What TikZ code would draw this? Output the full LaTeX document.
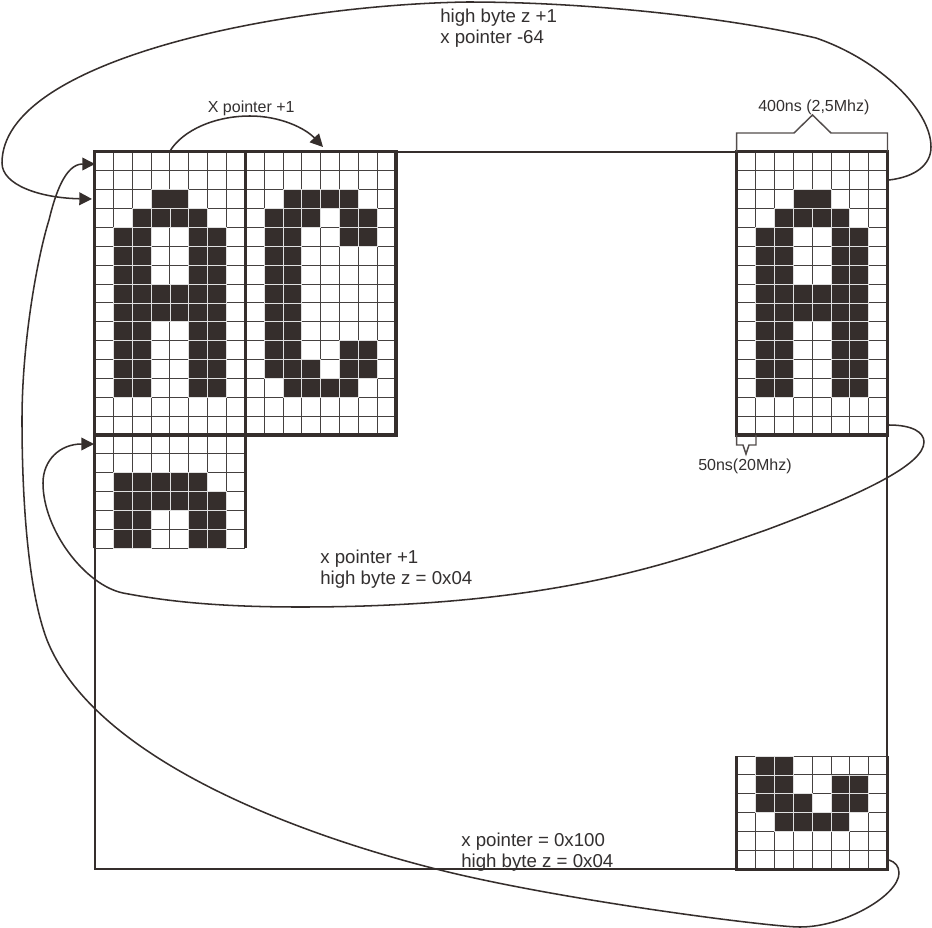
\documentclass[tikz,border=0pt]{standalone}
\usepackage{fontspec}
\setmainfont{Liberation Sans}
\usetikzlibrary{arrows.meta}
\definecolor{ink}{HTML}{352E2C}
\definecolor{gridc}{HTML}{454140}
\definecolor{txt}{HTML}{333030}
\tikzset{
  glyphbox/.style={draw=none,inner sep=0pt,outer sep=0pt,anchor=north west},
  thickedge/.style={draw=ink,line width=2.5pt,line cap=rect},
  framebox/.style={draw=ink,line width=1.5pt,inner sep=0pt,outer sep=0pt,anchor=north west,minimum width=594.4pt,minimum height=538pt},
  flow/.style={draw=ink,line width=1.15pt},
  flowarrow/.style={flow,-{Triangle[length=9.5pt,width=9.5pt]}},
  brace/.style={draw=ink!85!white,line width=1.1pt},
  biglabel/.style={font=\fontsize{14}{15.6}\selectfont,text=txt,anchor=base west,inner sep=0pt,align=left},
  smalllabel/.style={font=\fontsize{12}{14}\selectfont,text=txt,anchor=base west,inner sep=0pt},
  joinbar/.style={draw=ink,line width=.9pt}
}
\newcommand{\glyphgrid}[5]{%
  \fill[white] (#1,#2) rectangle ++(#3*18.85,#4*18.9);
  \foreach \gi in {0,...,#3}{\draw[gridc,line width=.68pt] (#1+\gi*18.85,#2) -- ++(0,#4*18.9);}
  \foreach \gj in {0,...,#4}{\draw[gridc,line width=.68pt] (#1,#2+\gj*18.9) -- ++(#3*18.85,0);}
  \foreach \gc/\gr in {#5}{%
    \draw[fill=ink,draw=white!88!black,line width=.6pt] (#1+\gc*18.85,#2+\gr*18.9) rectangle ++(18.85,18.9);}
}
\begin{document}
\begin{tikzpicture}[x=.75pt,y=-.75pt]
\useasboundingbox (0,0) rectangle (932,928);
\fill[white] (0,0) rectangle (932,928);
\node[framebox] (frame) at (94.5,152) {};
% glyph A
\glyphgrid{94.5}{151.7}{8}{15}{3/2,4/2,2/3,3/3,4/3,5/3,1/4,2/4,5/4,6/4,1/5,2/5,5/5,6/5,1/6,2/6,5/6,6/6,1/7,2/7,3/7,4/7,5/7,6/7,1/8,2/8,3/8,4/8,5/8,6/8,1/9,2/9,5/9,6/9,1/10,2/10,5/10,6/10,1/11,2/11,5/11,6/11,1/12,2/12,5/12,6/12}
\draw[joinbar] (169.9,190) -- (169.9,208);
% glyph C
\glyphgrid{245.3}{151.7}{8}{15}{2/2,3/2,4/2,5/2,1/3,2/3,3/3,5/3,6/3,1/4,2/4,5/4,6/4,1/5,2/5,1/6,2/6,1/7,2/7,1/8,2/8,1/9,2/9,1/10,2/10,5/10,6/10,1/11,2/11,3/11,5/11,6/11,2/12,3/12,4/12,5/12}
% glyph A, right
\glyphgrid{736.7}{151.7}{8}{15}{3/2,4/2,2/3,3/3,4/3,5/3,1/4,2/4,5/4,6/4,1/5,2/5,5/5,6/5,1/6,2/6,5/6,6/6,1/7,2/7,3/7,4/7,5/7,6/7,1/8,2/8,3/8,4/8,5/8,6/8,1/9,2/9,5/9,6/9,1/10,2/10,5/10,6/10,1/11,2/11,5/11,6/11,1/12,2/12,5/12,6/12}
\draw[joinbar] (812.1,190) -- (812.1,208);
% top of A, second line
\glyphgrid{94.5}{435}{8}{6}{1/2,2/2,3/2,4/2,5/2,1/3,2/3,3/3,4/3,5/3,6/3,1/4,2/4,5/4,6/4,1/5,2/5,5/5,6/5}
% bottom right glyph
\glyphgrid{736.7}{756}{8}{6}{1/0,2/0,1/1,2/1,5/1,6/1,1/2,2/2,3/2,5/2,6/2,2/3,3/3,4/3,5/3}
\node[glyphbox,minimum width=113.1pt,minimum height=212.5pt] (A) at (94.5,151.7) {};
\node[glyphbox,minimum width=113.1pt,minimum height=212.5pt] (C) at (245.3,151.7) {};
\node[glyphbox,minimum width=113.1pt,minimum height=212.5pt] (R) at (736.7,151.7) {};
\node[glyphbox,minimum width=113.1pt,minimum height=85pt] (S) at (94.5,435) {};
\node[glyphbox,minimum width=113.1pt,minimum height=85pt] (W) at (736.7,756) {};
\draw[thickedge] (A.north west) rectangle (A.south east);
\draw[thickedge] (C.north west) rectangle (C.south east);
\draw[thickedge] (R.north west) rectangle (R.south east);
\draw[thickedge,line cap=butt] (S.south west) -- (S.north west) (S.north east) -- (S.south east);
\draw[thickedge,line cap=butt] (W.north west) -- (W.south west) -- (W.south east) -- (W.north east);
% end points
\coordinate (t1) at (889,180);
\coordinate (t2) at (92,199);
\coordinate (x1) at (170,151);
\coordinate (x2) at (323,147);
\coordinate (m1) at (889,425);
\coordinate (m2) at (94,444);
\coordinate (b1) at (889,860);
\coordinate (b2) at (95,164);
% connectors
\draw[flowarrow] (t1) .. controls (915,177) and (931,165) .. (931,147)
  .. controls (931,110) and (880,60) .. (816,38)
  .. controls (740,20) and (600,2) .. (467,2)
  .. controls (280,5) and (2,60) .. (2,163)
  .. controls (2,185) and (40,198) .. (t2);
\draw[flowarrow] (x1) .. controls (183,130) and (215,116) .. (250,116)
  .. controls (280,116) and (305,128) .. (x2);
\draw[flowarrow] (m1) .. controls (912,425) and (924,432) .. (924,442)
  .. controls (924,465) and (860,495) .. (766,530)
  .. controls (680,560) and (560,607) .. (300,607)
  .. controls (210,607) and (160,600) .. (123,593)
  .. controls (85,585) and (43,530) .. (43,483)
  .. controls (43,460) and (60,444) .. (m2);
\draw[flowarrow] (b1) .. controls (895,862) and (899,866) .. (899,873)
  .. controls (899,895) and (845,927) .. (800,927)
  .. controls (770,927) and (560,900) .. (440,870)
  .. controls (300,835) and (95,760) .. (47,640)
  .. controls (28,590) and (22,500) .. (22,420)
  .. controls (22,340) and (38,255) .. (49,220)
  .. controls (55,195) and (65,164) .. (b2);
% braces
\draw[brace] (R.north west) -- (736.7,133) -- (794,133) -- (812.5,115) -- (831,133) -- (887.5,133) -- (R.north east);
\draw[brace] (R.south west) -- (736.7,445) -- (743,445) -- (746,454) -- (749,445) -- (756,445) -- (756,435);
% labels
\node[biglabel] (l1) at (440,43.5) {high byte z +1\\x pointer -64};
\node[biglabel] (l2) at (320,584) {x pointer +1\\high byte z = 0x04};
\node[biglabel] (l3) at (461,867) {x pointer = 0x100\\high byte z = 0x04};
\node[smalllabel] (l4) at (207.6,112) {X pointer +1};
\node[smalllabel] (l5) at (758,111) {400ns (2,5Mhz)};
\node[smalllabel] (l6) at (698,470) {50ns(20Mhz)};
\end{tikzpicture}
\end{document}
